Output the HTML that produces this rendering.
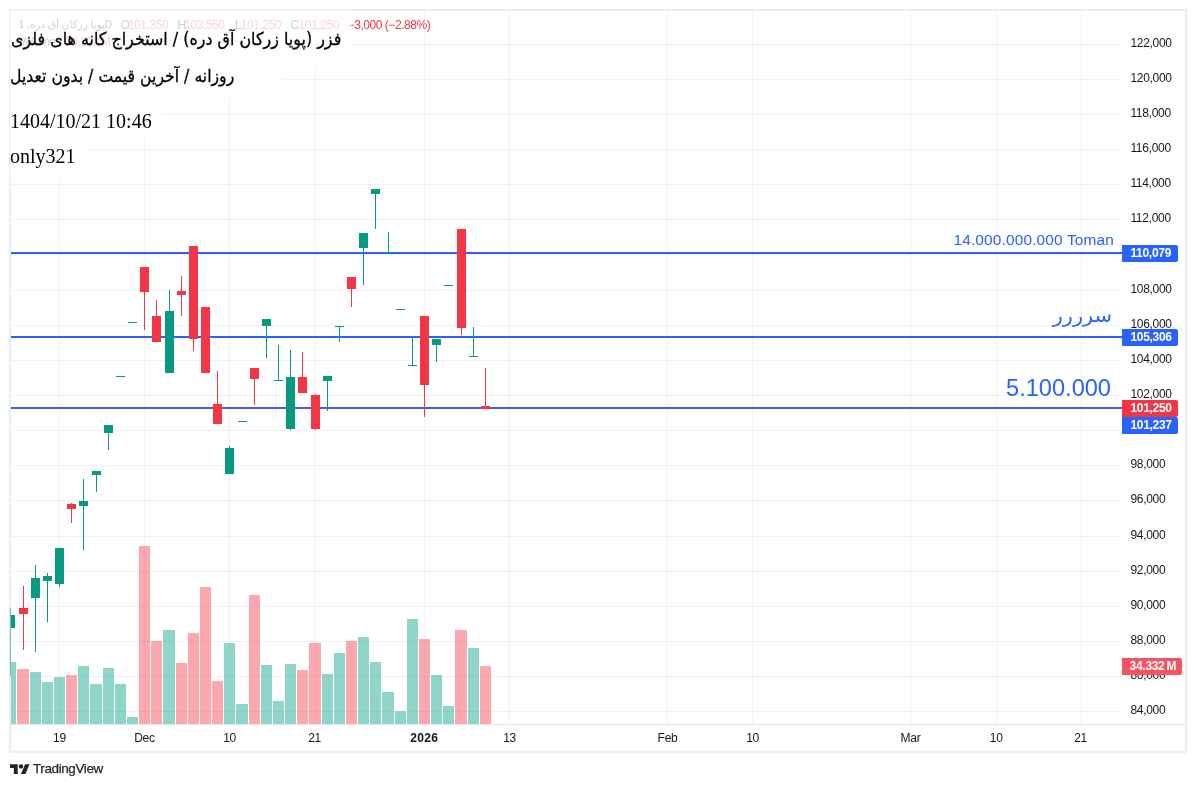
<!DOCTYPE html>
<html lang="fa"><head><meta charset="utf-8"><title>TradingView chart</title><style>
html,body{margin:0;padding:0;background:#fff}
body{width:1196px;height:787px;position:relative;overflow:hidden;font-family:"Liberation Sans",sans-serif;color:#131722}
div{position:absolute;white-space:nowrap}
.pl{left:1130.4px;font-size:12px;line-height:14px;letter-spacing:-0.3px;color:#131722}
.tag{left:1122px;width:56px;height:17px;line-height:17px;font-size:12px;letter-spacing:-0.3px;color:#fff;font-weight:bold;text-indent:8.4px;border-radius:0 2px 2px 0}
.tag.vol{width:60px;text-indent:7.6px}
.tl{width:60px;text-align:center;top:731px;font-size:12px;line-height:14px;letter-spacing:-0.3px}
.tl.b{font-weight:bold;letter-spacing:0.3px}
.lt{color:#2962ff;line-height:1}
.lg{font-size:12px;line-height:14px;letter-spacing:-0.45px;font-family:"Liberation Sans","DejaVu Sans",sans-serif}
.lg.k{color:#131722}
.lg.v{color:#f23645}
.wb{background:rgba(255,255,255,0.78)}
.tt{left:10px;color:#000;font-family:"Liberation Serif","DejaVu Sans",serif;font-size:20px;line-height:24px}
.tt.fa{font-family:"DejaVu Sans",sans-serif;font-size:17.6px;transform-origin:0 0;transform:scaleX(0.9);-webkit-text-stroke:0.3px #000}
#tv{left:33px;top:761px;font-size:13.5px;line-height:16px;letter-spacing:-0.4px;color:#1e222d;-webkit-text-stroke:0.25px #1e222d}
</style></head><body>
<svg width="1196" height="787" viewBox="0 0 1196 787" shape-rendering="crispEdges" style="position:absolute;left:0;top:0">
<rect x="10" y="10" width="1176" height="742" fill="none" stroke="#ebedf4" stroke-width="2"/>
<rect x="11" y="44" width="1111" height="1" fill="rgba(42,46,57,0.065)"/>
<rect x="11" y="79" width="1111" height="1" fill="rgba(42,46,57,0.065)"/>
<rect x="11" y="114" width="1111" height="1" fill="rgba(42,46,57,0.065)"/>
<rect x="11" y="149" width="1111" height="1" fill="rgba(42,46,57,0.065)"/>
<rect x="11" y="184" width="1111" height="1" fill="rgba(42,46,57,0.065)"/>
<rect x="11" y="219" width="1111" height="1" fill="rgba(42,46,57,0.065)"/>
<rect x="11" y="254" width="1111" height="1" fill="rgba(42,46,57,0.065)"/>
<rect x="11" y="290" width="1111" height="1" fill="rgba(42,46,57,0.065)"/>
<rect x="11" y="325" width="1111" height="1" fill="rgba(42,46,57,0.065)"/>
<rect x="11" y="360" width="1111" height="1" fill="rgba(42,46,57,0.065)"/>
<rect x="11" y="395" width="1111" height="1" fill="rgba(42,46,57,0.065)"/>
<rect x="11" y="430" width="1111" height="1" fill="rgba(42,46,57,0.065)"/>
<rect x="11" y="465" width="1111" height="1" fill="rgba(42,46,57,0.065)"/>
<rect x="11" y="500" width="1111" height="1" fill="rgba(42,46,57,0.065)"/>
<rect x="11" y="536" width="1111" height="1" fill="rgba(42,46,57,0.065)"/>
<rect x="11" y="571" width="1111" height="1" fill="rgba(42,46,57,0.065)"/>
<rect x="11" y="606" width="1111" height="1" fill="rgba(42,46,57,0.065)"/>
<rect x="11" y="641" width="1111" height="1" fill="rgba(42,46,57,0.065)"/>
<rect x="11" y="676" width="1111" height="1" fill="rgba(42,46,57,0.065)"/>
<rect x="11" y="711" width="1111" height="1" fill="rgba(42,46,57,0.065)"/>
<rect x="59" y="11" width="1" height="713" fill="rgba(42,46,57,0.065)"/>
<rect x="144" y="11" width="1" height="713" fill="rgba(42,46,57,0.065)"/>
<rect x="229" y="11" width="1" height="713" fill="rgba(42,46,57,0.065)"/>
<rect x="315" y="11" width="1" height="713" fill="rgba(42,46,57,0.065)"/>
<rect x="424" y="11" width="1" height="713" fill="rgba(42,46,57,0.065)"/>
<rect x="509" y="11" width="1" height="713" fill="rgba(42,46,57,0.065)"/>
<rect x="667" y="11" width="1" height="713" fill="rgba(42,46,57,0.065)"/>
<rect x="752" y="11" width="1" height="713" fill="rgba(42,46,57,0.065)"/>
<rect x="910" y="11" width="1" height="713" fill="rgba(42,46,57,0.065)"/>
<rect x="996" y="11" width="1" height="713" fill="rgba(42,46,57,0.065)"/>
<rect x="1081" y="11" width="1" height="713" fill="rgba(42,46,57,0.065)"/>
<rect x="11" y="724" width="1174" height="1" fill="#e0e3eb"/>
<rect x="11" y="662" width="5" height="62" fill="rgba(34,171,148,0.5)"/>
<rect x="17" y="669" width="12" height="55" fill="rgba(247,82,95,0.5)"/>
<rect x="30" y="672" width="11" height="52" fill="rgba(34,171,148,0.5)"/>
<rect x="42" y="682" width="11" height="42" fill="rgba(34,171,148,0.5)"/>
<rect x="54" y="677" width="11" height="47" fill="rgba(34,171,148,0.5)"/>
<rect x="66" y="675" width="11" height="49" fill="rgba(247,82,95,0.5)"/>
<rect x="78" y="666" width="11" height="58" fill="rgba(34,171,148,0.5)"/>
<rect x="90" y="684" width="12" height="40" fill="rgba(34,171,148,0.5)"/>
<rect x="103" y="668" width="11" height="56" fill="rgba(34,171,148,0.5)"/>
<rect x="115" y="684" width="11" height="40" fill="rgba(34,171,148,0.5)"/>
<rect x="127" y="717" width="11" height="7" fill="rgba(34,171,148,0.5)"/>
<rect x="139" y="546" width="11" height="178" fill="rgba(247,82,95,0.5)"/>
<rect x="151" y="641" width="11" height="83" fill="rgba(247,82,95,0.5)"/>
<rect x="163" y="630" width="12" height="94" fill="rgba(34,171,148,0.5)"/>
<rect x="176" y="663" width="11" height="61" fill="rgba(247,82,95,0.5)"/>
<rect x="188" y="633" width="11" height="91" fill="rgba(247,82,95,0.5)"/>
<rect x="200" y="587" width="11" height="137" fill="rgba(247,82,95,0.5)"/>
<rect x="212" y="681" width="11" height="43" fill="rgba(247,82,95,0.5)"/>
<rect x="224" y="643" width="11" height="81" fill="rgba(34,171,148,0.5)"/>
<rect x="236" y="704" width="12" height="20" fill="rgba(34,171,148,0.5)"/>
<rect x="249" y="595" width="11" height="129" fill="rgba(247,82,95,0.5)"/>
<rect x="261" y="665" width="11" height="59" fill="rgba(34,171,148,0.5)"/>
<rect x="273" y="701" width="11" height="23" fill="rgba(34,171,148,0.5)"/>
<rect x="285" y="664" width="11" height="60" fill="rgba(34,171,148,0.5)"/>
<rect x="297" y="670" width="11" height="54" fill="rgba(247,82,95,0.5)"/>
<rect x="309" y="643" width="12" height="81" fill="rgba(247,82,95,0.5)"/>
<rect x="322" y="674" width="11" height="50" fill="rgba(34,171,148,0.5)"/>
<rect x="334" y="653" width="11" height="71" fill="rgba(34,171,148,0.5)"/>
<rect x="346" y="641" width="11" height="83" fill="rgba(247,82,95,0.5)"/>
<rect x="358" y="637" width="11" height="87" fill="rgba(34,171,148,0.5)"/>
<rect x="370" y="662" width="11" height="62" fill="rgba(34,171,148,0.5)"/>
<rect x="382" y="692" width="12" height="32" fill="rgba(34,171,148,0.5)"/>
<rect x="395" y="711" width="11" height="13" fill="rgba(34,171,148,0.5)"/>
<rect x="407" y="619" width="11" height="105" fill="rgba(34,171,148,0.5)"/>
<rect x="419" y="639" width="11" height="85" fill="rgba(247,82,95,0.5)"/>
<rect x="431" y="675" width="11" height="49" fill="rgba(34,171,148,0.5)"/>
<rect x="443" y="706" width="11" height="18" fill="rgba(34,171,148,0.5)"/>
<rect x="455" y="630" width="12" height="94" fill="rgba(247,82,95,0.5)"/>
<rect x="468" y="648" width="11" height="76" fill="rgba(34,171,148,0.5)"/>
<rect x="480" y="666" width="11" height="58" fill="rgba(247,82,95,0.5)"/>
<rect x="11" y="252" width="1111" height="2" fill="#2962ff"/>
<rect x="11" y="336" width="1111" height="2" fill="#2962ff"/>
<rect x="11" y="407" width="1111" height="2" fill="#2962ff"/>
<rect x="10" y="608" width="1" height="68" fill="#089981" opacity="0.55"/>
<rect x="11" y="615" width="4" height="13" fill="#089981"/>
<rect x="23" y="586" width="1" height="64" fill="#f23645"/>
<rect x="19" y="608" width="9" height="6" fill="#f23645"/>
<rect x="35" y="565" width="1" height="87" fill="#089981"/>
<rect x="31" y="578" width="9" height="20" fill="#089981"/>
<rect x="47" y="573" width="1" height="49" fill="#089981"/>
<rect x="43" y="576" width="9" height="5" fill="#089981"/>
<rect x="59" y="548" width="1" height="39" fill="#089981"/>
<rect x="55" y="548" width="9" height="36" fill="#089981"/>
<rect x="71" y="503" width="1" height="20" fill="#f23645"/>
<rect x="67" y="504" width="9" height="5" fill="#f23645"/>
<rect x="83" y="479" width="1" height="71" fill="#089981"/>
<rect x="79" y="501" width="9" height="5" fill="#089981"/>
<rect x="96" y="471" width="1" height="21" fill="#089981"/>
<rect x="92" y="471" width="9" height="4" fill="#089981"/>
<rect x="108" y="425" width="1" height="25" fill="#089981"/>
<rect x="104" y="425" width="9" height="8" fill="#089981"/>
<rect x="116" y="376" width="9" height="1" fill="#089981"/>
<rect x="128" y="322" width="9" height="1" fill="#089981"/>
<rect x="144" y="267" width="1" height="63" fill="#f23645"/>
<rect x="140" y="267" width="9" height="25" fill="#f23645"/>
<rect x="156" y="300" width="1" height="42" fill="#f23645"/>
<rect x="152" y="316" width="9" height="26" fill="#f23645"/>
<rect x="169" y="290" width="1" height="83" fill="#089981"/>
<rect x="165" y="311" width="9" height="62" fill="#089981"/>
<rect x="181" y="276" width="1" height="40" fill="#f23645"/>
<rect x="177" y="291" width="9" height="4" fill="#f23645"/>
<rect x="193" y="246" width="1" height="105" fill="#f23645"/>
<rect x="189" y="246" width="9" height="93" fill="#f23645"/>
<rect x="201" y="307" width="9" height="66" fill="#f23645"/>
<rect x="217" y="371" width="1" height="53" fill="#f23645"/>
<rect x="213" y="404" width="9" height="20" fill="#f23645"/>
<rect x="229" y="446" width="1" height="28" fill="#089981"/>
<rect x="225" y="448" width="9" height="26" fill="#089981"/>
<rect x="238" y="421" width="9" height="1" fill="#089981"/>
<rect x="254" y="368" width="1" height="37" fill="#f23645"/>
<rect x="250" y="368" width="9" height="11" fill="#f23645"/>
<rect x="266" y="319" width="1" height="39" fill="#089981"/>
<rect x="262" y="319" width="9" height="7" fill="#089981"/>
<rect x="278" y="345" width="1" height="36" fill="#089981"/>
<rect x="274" y="380" width="9" height="1" fill="#089981"/>
<rect x="290" y="350" width="1" height="80" fill="#089981"/>
<rect x="286" y="377" width="9" height="52" fill="#089981"/>
<rect x="302" y="352" width="1" height="41" fill="#f23645"/>
<rect x="298" y="377" width="9" height="16" fill="#f23645"/>
<rect x="315" y="394" width="1" height="36" fill="#f23645"/>
<rect x="311" y="395" width="9" height="34" fill="#f23645"/>
<rect x="327" y="376" width="1" height="35" fill="#089981"/>
<rect x="323" y="376" width="9" height="5" fill="#089981"/>
<rect x="339" y="326" width="1" height="16" fill="#089981"/>
<rect x="335" y="326" width="9" height="1" fill="#089981"/>
<rect x="351" y="277" width="1" height="30" fill="#f23645"/>
<rect x="347" y="277" width="9" height="12" fill="#f23645"/>
<rect x="363" y="233" width="1" height="52" fill="#089981"/>
<rect x="359" y="233" width="9" height="15" fill="#089981"/>
<rect x="375" y="189" width="1" height="40" fill="#089981"/>
<rect x="371" y="189" width="9" height="5" fill="#089981"/>
<rect x="388" y="232" width="1" height="21" fill="#089981"/>
<rect x="384" y="252" width="9" height="1" fill="#089981"/>
<rect x="396" y="309" width="9" height="1" fill="#089981"/>
<rect x="412" y="337" width="1" height="29" fill="#089981"/>
<rect x="408" y="365" width="9" height="1" fill="#089981"/>
<rect x="424" y="316" width="1" height="101" fill="#f23645"/>
<rect x="420" y="316" width="9" height="69" fill="#f23645"/>
<rect x="436" y="339" width="1" height="23" fill="#089981"/>
<rect x="432" y="339" width="9" height="6" fill="#089981"/>
<rect x="444" y="285" width="9" height="1" fill="#089981"/>
<rect x="461" y="229" width="1" height="106" fill="#f23645"/>
<rect x="457" y="229" width="9" height="99" fill="#f23645"/>
<rect x="473" y="327" width="1" height="30" fill="#089981"/>
<rect x="469" y="356" width="9" height="1" fill="#089981"/>
<rect x="485" y="368" width="1" height="41" fill="#f23645"/>
<rect x="481" y="406" width="9" height="3" fill="#f23645"/>
<line x1="13" y1="408.5" x2="1122" y2="408.5" stroke="#f23645" stroke-width="1" stroke-dasharray="1 2"/>
</svg>
<div class="pl" style="top:36.3px">122,000</div>
<div class="pl" style="top:71.3px">120,000</div>
<div class="pl" style="top:106.3px">118,000</div>
<div class="pl" style="top:141.3px">116,000</div>
<div class="pl" style="top:176.3px">114,000</div>
<div class="pl" style="top:211.3px">112,000</div>
<div class="pl" style="top:246.3px">110,000</div>
<div class="pl" style="top:282.3px">108,000</div>
<div class="pl" style="top:317.3px">106,000</div>
<div class="pl" style="top:352.3px">104,000</div>
<div class="pl" style="top:387.3px">102,000</div>
<div class="pl" style="top:422.3px">100,000</div>
<div class="pl" style="top:457.3px">98,000</div>
<div class="pl" style="top:492.3px">96,000</div>
<div class="pl" style="top:528.3px">94,000</div>
<div class="pl" style="top:563.3px">92,000</div>
<div class="pl" style="top:598.3px">90,000</div>
<div class="pl" style="top:633.3px">88,000</div>
<div class="pl" style="top:668.3px">86,000</div>
<div class="pl" style="top:703.3px">84,000</div>
<div class="tag" style="top:245px;background:#2962ff">110,079</div>
<div class="tag" style="top:329px;background:#2962ff">105,306</div>
<div class="tag" style="top:400px;background:#f23645">101,250</div>
<div class="tag" style="top:417px;background:#2962ff">101,237</div>
<div class="tag vol" style="top:658px;background:#f7525f">34.332&#8239;M</div>
<div class="tl" style="left:29.4px">19</div>
<div class="tl" style="left:114.4px">Dec</div>
<div class="tl" style="left:199.5px">10</div>
<div class="tl" style="left:284.5px">21</div>
<div class="tl b" style="left:394.2px">2026</div>
<div class="tl" style="left:479.5px">13</div>
<div class="tl" style="left:637.5px">Feb</div>
<div class="tl" style="left:722.5px">10</div>
<div class="tl" style="left:880.5px">Mar</div>
<div class="tl" style="left:966.2px">10</div>
<div class="tl" style="left:1050.5px">21</div>
<div class="lt" id="lt1" style="right:82px;top:232px;font-size:15.4px;letter-spacing:0.17px">14.000.000.000 Toman</div>
<div class="lt" id="lt2" dir="rtl" style="right:83.5px;top:306px;font-size:19.8px;transform-origin:100% 50%;transform:scaleX(1.06);font-family:'DejaVu Sans',sans-serif">سرررر</div>
<div class="lt" id="lt3" style="right:85px;top:377.2px;font-size:23.6px">5.100.000</div>
<div class="lg k" id="lg0" style="left:18.5px;top:17.7px;font-size:10.4px">پویا زرکان آق دره, 1D</div>
<div class="lg k" id="lg1" style="left:120.4px;top:17.7px">O</div>
<div class="lg v" id="lg2" style="left:127.9px;top:17.7px">101,350</div>
<div class="lg k" id="lg3" style="left:177.6px;top:17.7px">H</div>
<div class="lg v" id="lg4" style="left:184.3px;top:17.7px">103,550</div>
<div class="lg k" id="lg5" style="left:235.1px;top:17.7px">L</div>
<div class="lg v" id="lg6" style="left:240.8px;top:17.7px">101,250</div>
<div class="lg k" id="lg7" style="left:290.4px;top:17.7px">C</div>
<div class="lg v" id="lg8" style="left:298.7px;top:17.7px">101,250</div>
<div class="lg v" id="lg9" style="left:347.6px;top:17.7px">−3,000 (−2.88%)</div>
<div class="lg k" id="lgv" style="left:18.5px;top:35px">Volume</div>
<div class="lg v" id="lgw" style="left:65px;top:35px">34.332&#8239;M</div>
<div class="wb" style="left:10px;top:10px;width:341px;height:55px"></div>
<div class="wb" style="left:10px;top:65px;width:275px;height:36px"></div>
<div class="wb" style="left:10px;top:101px;width:152px;height:41px"></div>
<div class="wb" style="left:10px;top:142px;width:76px;height:35px"></div>
<div class="tt fa" id="t1" dir="rtl" style="top:26.7px;left:10.5px;font-size:17.7px">فزر (پویا زرکان آق دره) / استخراج کانه های فلزی</div>
<div class="tt fa" id="t2" dir="rtl" style="top:63.7px;transform:scaleX(0.892)">روزانه / آخرین قیمت / بدون تعدیل</div>
<div class="tt" id="t3" style="top:108.7px">1404/10/21 10:46</div>
<div class="tt" id="t4" style="top:143.9px">only321</div>
<svg style="position:absolute;left:10px;top:761.8px" width="19.8" height="15.4" viewBox="0 0 36 28"><path fill="#1e222d" d="M14 22H7V11H0V4h14v18zM28 22h-8l7.5-18h8L28 22z"/><circle fill="#1e222d" cx="20" cy="8" r="4"/></svg>
<div id="tv">TradingView</div>
</body></html>
